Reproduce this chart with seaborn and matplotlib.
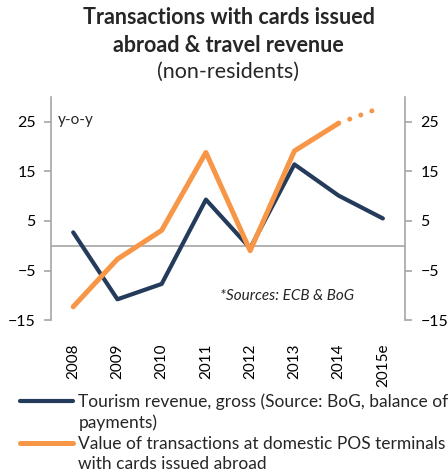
import numpy as np
import pandas as pd
import matplotlib
matplotlib.use("Agg")
import matplotlib.pyplot as plt
from matplotlib.lines import Line2D
import seaborn as sns

years = ["2008", "2009", "2010", "2011", "2012", "2013", "2014", "2015e"]
tourism = [2.7, -10.8, -7.7, 9.3, -0.5, 16.4, 10.1, 5.5]
pos_value = [-12.3, -2.7, 3.1, 18.8, -1.0, 19.1, 24.7]
pos_estimate = [24.7, 28.0]  # 2014 -> 2015e (dotted)
yticks = [-15, -5, 5, 15, 25]

label_tourism = ["Tourism revenue, gross (Source: BoG, balance of", "payments)"]
label_pos = ["Value of transactions at domestic POS terminals", "with cards issued abroad"]

sns.set_style("white")
plt.rcParams['font.family'] = ['Lato', 'DejaVu Sans']

BLUE = "#243B5C"
ORANGE = "#F79646"
GRAY = "#A6A6A6"

fig = plt.figure(figsize=(4.48, 4.75), dpi=100)
ax = fig.add_axes([0.114, 0.326, 0.790, 0.470])

df_t = pd.DataFrame({"x": np.arange(len(years)), "y": tourism})
df_p = pd.DataFrame({"x": np.arange(len(pos_value)), "y": pos_value})
df_e = pd.DataFrame({"x": np.arange(len(pos_value) - 1, len(years)), "y": pos_estimate})

ax.axhline(0, color=GRAY, lw=1.2, zorder=1)
sns.lineplot(data=df_t, x="x", y="y", ax=ax, color=BLUE, lw=3.0,
             solid_capstyle="round", label=label_tourism[0], zorder=3)
sns.lineplot(data=df_p, x="x", y="y", ax=ax, color=ORANGE, lw=3.6,
             solid_capstyle="round", label=label_pos[0], zorder=4)
sns.lineplot(data=df_e, x="x", y="y", ax=ax, color=ORANGE, lw=3.6,
             dashes=False, linestyle=(0, (0.01, 2.35)), dash_capstyle="round",
             legend=False, zorder=4)

ax.set_xlim(-0.5, len(years) - 0.5)
ax.set_ylim(-15, 30)
ax.set_yticks(yticks)
ax.set_xticks(np.arange(len(years)))
ax.set_xticklabels(years, rotation=90, fontsize=11)
ax.set_xlabel("")
ax.set_ylabel("")

for s in ["top", "bottom"]:
    ax.spines[s].set_visible(False)
for s in ["left", "right"]:
    ax.spines[s].set_visible(True)
    ax.spines[s].set_color(GRAY)
    ax.spines[s].set_linewidth(1.2)
    ax.spines[s].set_bounds(-15, 30)

ax.tick_params(axis="y", which="both", left=True, right=True, labelleft=True,
               labelright=True, length=5, width=1.2, color=GRAY, labelsize=11.5,
               direction="out", pad=6, labelcolor="black")
ax.tick_params(axis="x", length=0, pad=17, labelcolor="black")

ax.text(0.02, 0.897, "y-o-y", transform=ax.transAxes, fontsize=11, va="center", ha="left")
ax.text(0.476, 0.108, "*Sources: ECB & BoG", transform=ax.transAxes, fontsize=11,
        style="italic", va="center", ha="left")

fig.text(0.51, 0.963, "Transactions with cards issued", ha="center", va="center",
         fontsize=15.5, fontweight="bold")
fig.text(0.51, 0.905, "abroad & travel revenue", ha="center", va="center",
         fontsize=15.5, fontweight="bold")
fig.text(0.51, 0.848, "(non-residents)", ha="center", va="center", fontsize=15.5)

handles, _ = ax.get_legend_handles_labels()
blank = Line2D([], [], color="none")
ax.legend([handles[0], blank, handles[1], blank],
          [label_tourism[0], label_tourism[1], label_pos[0], label_pos[1]],
          loc="upper left", bbox_to_anchor=(0.045, 0.171), bbox_transform=fig.transFigure,
          frameon=False, fontsize=12.5, handlelength=3.05, handletextpad=0.3,
          borderaxespad=0, borderpad=0, labelspacing=0.25)

fig.savefig("out.png", dpi=100)
